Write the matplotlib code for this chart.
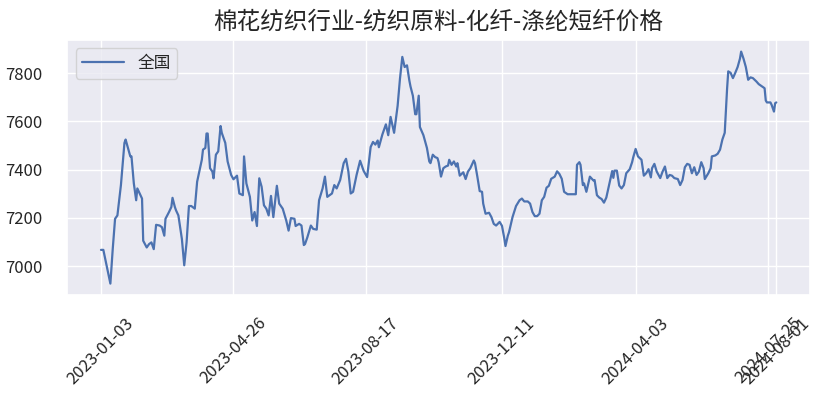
import numpy as np
import pandas as pd
import matplotlib
matplotlib.use("Agg")
import matplotlib.pyplot as plt
import matplotlib.dates as mdates
import seaborn as sns

# 数据：以 2023-01-03 为起点的天数偏移 + 价格
start_date = "2023-01-03"
days = [
    0, 2, 8, 10, 12, 14, 17, 20, 21, 23, 25, 26, 28, 30, 31, 33, 35, 36, 39, 41,
    43, 45, 47, 50, 52, 54, 55, 58, 60, 61, 63, 64, 66, 69, 71, 73, 75, 77, 80, 82,
    86, 87, 89, 90, 91, 93, 95, 96, 98, 100, 102, 103, 106, 108, 111, 113, 116, 118,
    121, 122, 124, 127, 129, 131, 133, 135, 137, 139, 141, 143, 145, 147, 150, 152,
    155, 158, 160, 162, 165, 166, 169, 171, 173, 174, 176, 179, 181, 184, 186, 189,
    191, 193, 197, 199, 201, 204, 207, 209, 211, 213, 215, 218, 221, 224, 227, 230,
    232, 234, 236, 237, 240, 243, 245, 247, 250, 253, 255, 257, 259, 261, 263, 264,
    266, 268, 269, 271, 272, 275, 278, 280, 281, 283, 285, 287, 288, 290, 292, 294,
    296, 297, 299, 301, 303, 304, 306, 309, 311, 313, 315, 318, 319, 321, 323, 325,
    326, 328, 331, 333, 335, 337, 340, 342, 344, 345, 347, 348, 351, 354, 357, 359,
    361, 364, 366, 368, 370, 372, 374, 376, 378, 380, 382, 384, 387, 389, 391, 393,
    395, 398, 405, 406, 408, 409, 411, 412, 414, 416, 417, 420, 421, 423, 425, 427,
    429, 431, 434, 436, 437, 438, 440, 442, 444, 446, 448, 451, 453, 454, 456, 458,
    461, 463, 465, 467, 469, 470, 472, 474, 477, 479, 481, 483, 485, 487, 489, 492,
    494, 496, 498, 500, 502, 504, 506, 508, 510, 512, 514, 515, 518, 520, 521, 524,
    526, 528, 530, 532, 534, 535, 537, 539, 541, 543, 545, 546, 548, 550, 552, 554,
    556, 559, 561, 564, 566, 567, 568, 571, 572, 574, 575, 576,
]
prices = [
    7067, 7067, 6927, 7070, 7196, 7210, 7336, 7511, 7525, 7490, 7455, 7455, 7343, 7273, 7322, 7301, 7280, 7105, 7077, 7091,
    7098, 7070, 7171, 7168, 7161, 7126, 7196, 7224, 7245, 7283, 7245, 7231, 7210, 7112, 7003, 7098, 7249, 7249, 7238, 7350,
    7441, 7483, 7490, 7550, 7550, 7406, 7392, 7364, 7462, 7476, 7581, 7553, 7511, 7434, 7378, 7360, 7375, 7301,
    7294, 7455, 7343, 7287, 7189, 7224, 7166, 7364, 7329, 7252, 7238, 7210, 7291, 7203, 7333, 7259,
    7238, 7189, 7147, 7199, 7196, 7166, 7175, 7168, 7087, 7091, 7119, 7168, 7154, 7151, 7273, 7322,
    7371, 7287, 7301, 7336, 7322, 7357, 7427, 7445, 7392, 7301, 7308, 7378, 7437, 7395, 7369, 7494,
    7515, 7504, 7521, 7493, 7546, 7588, 7543, 7619, 7553, 7665, 7777, 7868, 7826, 7833, 7770, 7745,
    7707, 7630, 7630, 7707, 7577, 7543, 7490, 7434, 7427, 7462, 7452, 7448, 7431, 7371, 7406, 7413,
    7417, 7441, 7420, 7434, 7413, 7427, 7375, 7389, 7361, 7392, 7406, 7438, 7427, 7371, 7311, 7308,
    7259, 7217, 7221, 7203, 7175, 7168, 7183, 7167, 7115, 7083, 7126, 7140, 7203, 7249, 7273, 7280,
    7268, 7268, 7259, 7224, 7207, 7207, 7217, 7273, 7287, 7325, 7333, 7362, 7371, 7393, 7382, 7362,
    7308, 7298, 7298, 7420, 7431, 7420, 7336, 7343, 7308, 7350, 7371, 7355, 7357, 7294, 7284, 7278,
    7263, 7284, 7350, 7394, 7366, 7396, 7396, 7334, 7322, 7336, 7385, 7402, 7431, 7452, 7486, 7455,
    7441, 7375, 7385, 7402, 7368, 7406, 7424, 7392, 7365, 7392, 7413, 7365, 7378, 7375, 7365, 7361,
    7336, 7357, 7410, 7424, 7420, 7385, 7410, 7378, 7392, 7431, 7406, 7361, 7385, 7406, 7455, 7459,
    7466, 7483, 7525, 7553, 7735, 7808, 7802, 7780, 7802, 7826, 7861, 7890, 7861, 7826, 7773, 7783,
    7780, 7766, 7755, 7745, 7738, 7687, 7679, 7679, 7669, 7641, 7676, 7679,
]
tick_dates = ["2023-01-03", "2023-04-26", "2023-08-17", "2023-12-11",
              "2024-04-03", "2024-07-25", "2024-08-01"]
series_name = "全国"
title = "棉花纺织行业-纺织原料-化纤-涤纶短纤价格"

sns.set_theme(style="darkgrid")
plt.rcParams["font.family"] = ["Noto Sans CJK SC", "DejaVu Sans"]
plt.rcParams["axes.unicode_minus"] = False

dates = pd.to_datetime(start_date) + pd.to_timedelta(days, unit="D")

fig, ax = plt.subplots(figsize=(8.3, 4.0), dpi=100)
ax.plot(dates, prices, color="#4c72b0", linewidth=1.6, label=series_name)

ticks = pd.to_datetime(tick_dates)
ax.set_xticks(ticks)
ax.xaxis.set_major_formatter(mdates.DateFormatter("%Y-%m-%d"))
ax.tick_params(axis="x", labelsize=12, rotation=45, pad=8)
ax.tick_params(axis="y", labelsize=12, pad=12)

ax.legend(loc="upper left", fontsize=12, handlelength=2.5)
ax.set_title(title, fontsize=17, pad=8)

fig.subplots_adjust(left=0.081, right=0.976, top=0.9, bottom=0.262)
fig.savefig("out.png", dpi=100)
